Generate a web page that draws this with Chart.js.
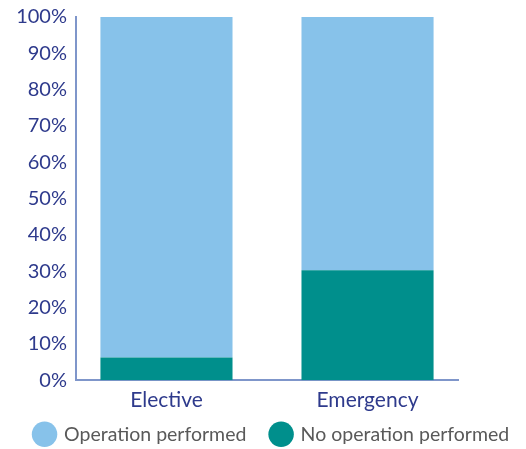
<!DOCTYPE html>
<html>
<head>
<meta charset="utf-8">
<script src="https://cdn.jsdelivr.net/npm/chart.js@4"></script>
<style>
  html, body { margin: 0; padding: 0; background: #fff; }
  #wrap { width: 526px; height: 449px; }
</style>
</head>
<body>
<div id="wrap"><canvas id="opChart" width="526" height="449"></canvas></div>
<script>
const categories = ["Elective", "Emergency"];
const noOperation = [6.3, 30.3];
const operationPerformed = [93.7, 69.7];
const yTicks = [0, 10, 20, 30, 40, 50, 60, 70, 80, 90, 100];

// bars sit on a linear x axis so the slot spacing can match the picture
const toPoints = (arr) => arr.map((v, i) => ({ x: i, y: v }));

const ctx = document.getElementById("opChart").getContext("2d");

new Chart(ctx, {
  type: "bar",
  data: {
    datasets: [
      {
        label: "No operation performed",
        data: toPoints(noOperation),
        backgroundColor: "#008F8C"
      },
      {
        label: "Operation performed    ",
        data: toPoints(operationPerformed),
        backgroundColor: "#87C2EA"
      }
    ]
  },
  options: {
    responsive: false,
    animation: false,
    // legend is centred a bit right of the canvas middle in the picture
    layout: { padding: { left: 12, right: -6, top: 17, bottom: -5 } },
    datasets: { bar: { categoryPercentage: 1, barPercentage: 0.657 } },
    scales: {
      x: {
        type: "linear",
        stacked: true,
        offset: false,
        min: -0.45,
        max: 1.45,
        afterBuildTicks: (axis) => {
          axis.ticks = categories.map((_, i) => ({ value: i }));
        },
        grid: { display: false, drawTicks: false },
        border: { color: "#7F96CA", width: 2 },
        ticks: {
          color: "#2E3A8C",
          font: { family: "Lato", size: 21 },
          padding: 7,
          callback: (v) => categories[v]
        }
      },
      y: {
        stacked: true,
        min: 0,
        max: 100,
        afterBuildTicks: (axis) => {
          axis.ticks = yTicks.map(v => ({ value: v }));
        },
        afterFit: (axis) => {
          axis.width = 64;
          axis.paddingTop = 0;
        },
        grid: { display: false, drawTicks: false },
        border: { color: "#7F96CA", width: 2 },
        ticks: {
          color: "#2E3A8C",
          font: { family: "Lato", size: 20 },
          padding: 9,
          callback: (v) => v + "%"
        }
      },
      // empty right axis, only reserves the blank space right of the plot
      yRight: {
        position: "right",
        display: true,
        grid: { display: false, drawTicks: false },
        border: { display: false },
        ticks: { display: false },
        afterFit: (axis) => { axis.width = 74; }
      }
    },
    plugins: {
      tooltip: { enabled: false },
      legend: {
        position: "bottom",
        reverse: true,
        labels: {
          usePointStyle: true,
          pointStyle: "circle",
          boxWidth: 20,
          boxHeight: 18,
          color: "#595959",
          font: { family: "Lato", size: 19.5 },
          padding: 5
        }
      }
    }
  }
});
</script>
</body>
</html>
